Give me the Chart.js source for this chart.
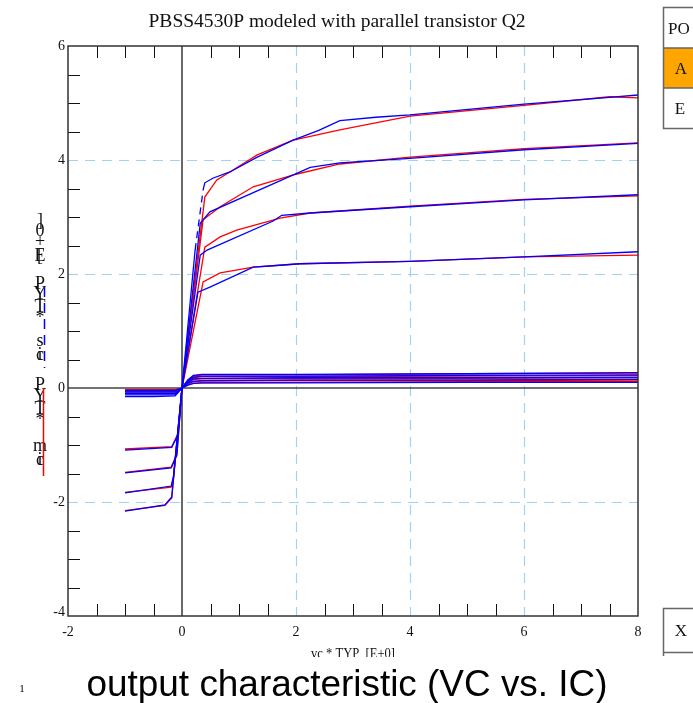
<!DOCTYPE html>
<html>
<head>
<meta charset="utf-8">
<script src="https://cdn.jsdelivr.net/npm/chart.js@4"></script>
<style>
  html, body { margin: 0; padding: 0; background: #fff; }
  #chart { display: block; }
</style>
</head>
<body>
<canvas id="chart" width="693" height="703"></canvas>
<script>
// axis ticks
const xTicks = [-2, 0, 2, 4, 6, 8];
const yTicks = [-4, -2, 0, 2, 4, 6];
const gridX = [2, 4, 6];
const gridY = [-2, 2, 4];

// big curves, VC > 0 (blue = model, red = measured)
const blue1Vc = [0, 0.23, 0.37, 0.40, 0.54, 0.84, 1.32, 1.95, 2.4, 2.77, 3.4, 4, 6, 7.5, 8];
const blue1Ic = [0, 2.42, 3.47, 3.60, 3.68, 3.79, 4.05, 4.35, 4.52, 4.69, 4.75, 4.79, 4.98, 5.10, 5.14];
const red1Vc = [0, 0.40, 0.61, 0.84, 1.32, 1.95, 2.77, 4, 6, 7.5, 8];
const red1Ic = [0, 3.35, 3.65, 3.79, 4.09, 4.35, 4.53, 4.77, 4.96, 5.11, 5.09];

const blue2Vc = [0, 0.32, 0.49, 2.25, 2.77, 4, 6, 8];
const blue2Ic = [0, 2.89, 3.09, 3.87, 3.95, 4.03, 4.18, 4.29];
const red2Vc = [0, 0.37, 0.67, 1.25, 2.0, 2.77, 4, 6, 8];
const red2Ic = [0, 2.95, 3.18, 3.53, 3.75, 3.93, 4.05, 4.20, 4.30];

const blue3Vc = [0, 0.32, 0.44, 1.6, 1.75, 2.25, 4, 6, 8];
const blue3Ic = [0, 2.33, 2.42, 2.93, 3.03, 3.07, 3.18, 3.30, 3.39];
const red3Vc = [0, 0.40, 0.67, 0.96, 1.72, 2.25, 4, 6, 8];
const red3Ic = [0, 2.47, 2.65, 2.77, 2.98, 3.07, 3.19, 3.31, 3.37];

const blue4Vc = [0, 0.28, 0.49, 1.25, 1.54, 2.07, 4, 6, 8];
const blue4Ic = [0, 1.68, 1.77, 2.12, 2.14, 2.18, 2.22, 2.30, 2.39];
const red4Vc = [0, 0.37, 0.67, 1.25, 2.07, 4, 6, 8];
const red4Ic = [0, 1.86, 2.02, 2.12, 2.18, 2.22, 2.30, 2.33];

// small curves, VC > 0
const smallVc = [0, 0.1, 0.2, 0.35, 2, 5, 8];
const smallBlue1 = [0, 0.14, 0.22, 0.24, 0.24, 0.25, 0.27];
const smallBlue2 = [0, 0.12, 0.19, 0.21, 0.21, 0.22, 0.23];
const smallBlue3 = [0, 0.10, 0.16, 0.17, 0.18, 0.18, 0.19];
const smallBlue4 = [0, 0.08, 0.12, 0.13, 0.14, 0.14, 0.15];
const smallBlue5 = [0, 0.05, 0.08, 0.09, 0.09, 0.10, 0.10];
const smallRed1 = [0, 0.13, 0.21, 0.23, 0.23, 0.25, 0.26];
const smallRed2 = [0, 0.11, 0.18, 0.20, 0.20, 0.21, 0.22];
const smallRed3 = [0, 0.09, 0.15, 0.16, 0.17, 0.17, 0.18];
const smallRed4 = [0, 0.07, 0.11, 0.12, 0.13, 0.13, 0.14];
const smallRed5 = [0, 0.05, 0.08, 0.09, 0.10, 0.11, 0.11];

// big curves, VC < 0
const negAVc = [-1, -0.18, -0.07, 0];
const negAIc = [-1.09, -1.04, -0.82, 0];
const negBVc = [-1, -0.19, -0.09, 0];
const negBIc = [-1.49, -1.40, -1.18, 0];
const negCVc = [-1, -0.19, -0.15, 0];
const negCIc = [-1.84, -1.72, -1.55, 0];
const negDVc = [-1, -0.30, -0.18, 0];
const negDIc = [-2.16, -2.05, -1.91, 0];
const negARed = [-1.07, -1.03, -0.80, 0];
const negBRed = [-1.48, -1.39, -1.16, 0];
const negCRed = [-1.83, -1.74, -1.58, 0];
const negDRed = [-2.15, -2.06, -1.93, 0];

// small curves, VC < 0
const negSmallVc = [-1, -0.5, -0.12, 0];
const negSmallBlue = [
  [-0.04, -0.04, -0.04, 0],
  [-0.07, -0.07, -0.07, 0],
  [-0.10, -0.10, -0.10, 0],
  [-0.12, -0.12, -0.12, 0],
  [-0.15, -0.15, -0.14, 0]
];
const negSmallRed = [
  [-0.03, -0.03, -0.03, 0],
  [-0.06, -0.06, -0.06, 0],
  [-0.09, -0.09, -0.09, 0]
];

const BLUE = '#0000ff';
const RED = '#ff0000';

function series(vc, ic, color) {
    return {
        data: vc.map((x, i) => ({ x: x, y: ic[i] })),
        borderColor: color,
        borderWidth: 1.3,
        showLine: true,
        pointRadius: 0,
        fill: false,
        tension: 0
    };
}

// top model curve has a dashed piece on its steep rise
const blue1 = series(blue1Vc, blue1Ic, BLUE);
blue1.segment = { borderDash: c => c.p0DataIndex === 1 ? [7, 5] : undefined };

// blue first so it sits on top of red
const datasets = [
    blue1,
    series(blue2Vc, blue2Ic, BLUE),
    series(blue3Vc, blue3Ic, BLUE),
    series(blue4Vc, blue4Ic, BLUE),
    series(smallVc, smallBlue1, BLUE),
    series(smallVc, smallBlue2, BLUE),
    series(smallVc, smallBlue3, BLUE),
    series(smallVc, smallBlue4, BLUE),
    series(smallVc, smallBlue5, BLUE),
    series(negAVc, negAIc, BLUE),
    series(negBVc, negBIc, BLUE),
    series(negCVc, negCIc, BLUE),
    series(negDVc, negDIc, BLUE),
    ...negSmallBlue.map(ic => series(negSmallVc, ic, BLUE)),
    series(red1Vc, red1Ic, RED),
    series(red2Vc, red2Ic, RED),
    series(red3Vc, red3Ic, RED),
    series(red4Vc, red4Ic, RED),
    series(smallVc, smallRed1, RED),
    series(smallVc, smallRed2, RED),
    series(smallVc, smallRed3, RED),
    series(smallVc, smallRed4, RED),
    series(smallVc, smallRed5, RED),
    series(negAVc, negARed, RED),
    series(negBVc, negBRed, RED),
    series(negCVc, negCRed, RED),
    series(negDVc, negDRed, RED),
    ...negSmallRed.map(ic => series(negSmallVc, ic, RED))
];

const SERIF = '"Liberation Serif", "Times New Roman", serif';

function fitText(ctx, text, cx, y, width) {
    const w = ctx.measureText(text).width;
    ctx.save();
    ctx.translate(cx, y);
    ctx.scale(width / w, 1);
    ctx.textAlign = 'center';
    ctx.fillText(text, 0, 0);
    ctx.restore();
}

const framePlugin = {
    id: 'frame',
    beforeDraw(chart) {
        const ctx = chart.ctx;
        ctx.save();
        ctx.fillStyle = '#fff';
        ctx.fillRect(0, 0, chart.width, chart.height);
        ctx.restore();
    },
    beforeDatasetsDraw(chart) {
        const { ctx, chartArea: a, scales: { x, y } } = chart;
        ctx.save();
        // dashed grid
        ctx.strokeStyle = '#9fd2f4';
        ctx.lineWidth = 1.2;
        ctx.setLineDash([10, 7]);
        gridX.forEach(v => {
            const px = Math.round(x.getPixelForValue(v)) + 0.5;
            ctx.beginPath();
            ctx.moveTo(px, a.top);
            ctx.lineTo(px, a.bottom);
            ctx.stroke();
        });
        gridY.forEach(v => {
            const py = Math.round(y.getPixelForValue(v)) + 0.5;
            ctx.beginPath();
            ctx.moveTo(a.left, py);
            ctx.lineTo(a.right, py);
            ctx.stroke();
        });
        ctx.setLineDash([]);

        // inward ticks every 0.5
        ctx.strokeStyle = '#111';
        ctx.lineWidth = 1;
        for (let v = -1.5; v < 8; v += 0.5) {
            if (gridX.includes(v) || v === 0) continue;
            const px = Math.round(x.getPixelForValue(v)) + 0.5;
            ctx.beginPath();
            ctx.moveTo(px, a.top);
            ctx.lineTo(px, a.top + 12);
            ctx.moveTo(px, a.bottom);
            ctx.lineTo(px, a.bottom - 12);
            ctx.stroke();
        }
        for (let v = -3.5; v < 6; v += 0.5) {
            if (gridY.includes(v) || v === 0) continue;
            const py = Math.round(y.getPixelForValue(v)) + 0.5;
            ctx.beginPath();
            ctx.moveTo(a.left, py);
            ctx.lineTo(a.left + 12, py);
            ctx.stroke();
        }

        // zero axes
        ctx.strokeStyle = '#444';
        ctx.lineWidth = 1.6;
        const x0 = x.getPixelForValue(0);
        const y0 = y.getPixelForValue(0);
        ctx.beginPath();
        ctx.moveTo(x0, a.top);
        ctx.lineTo(x0, a.bottom);
        ctx.moveTo(a.left, y0);
        ctx.lineTo(a.right, y0);
        ctx.stroke();
        ctx.restore();
    },
    afterDatasetsDraw(chart) {
        const { ctx, chartArea: a, scales: { x, y } } = chart;
        ctx.save();
        // plot border
        ctx.strokeStyle = '#333';
        ctx.lineWidth = 1.5;
        ctx.strokeRect(a.left, a.top, a.right - a.left, a.bottom - a.top);

        // tick labels
        ctx.fillStyle = '#111';
        ctx.font = '14px ' + SERIF;
        ctx.textBaseline = 'middle';
        ctx.textAlign = 'right';
        yTicks.forEach(v => {
            const py = y.getPixelForValue(v);
            ctx.fillText(String(v), a.left - 3, v === -4 ? py - 4 : py);
        });
        ctx.textAlign = 'center';
        xTicks.forEach(v => {
            ctx.fillText(String(v), x.getPixelForValue(v), a.bottom + 16);
        });

        // x axis title, cut at the bottom like the original
        ctx.save();
        ctx.beginPath();
        ctx.rect(0, 600, chart.width, 57);
        ctx.clip();
        ctx.font = '15px ' + SERIF;
        ctx.textBaseline = 'alphabetic';
        fitText(ctx, 'vc * TYP  [E+0]', 353, 658, 84);
        ctx.restore();

        // chart title
        ctx.font = '19px ' + SERIF;
        ctx.textBaseline = 'alphabetic';
        fitText(ctx, 'PBSS4530P modeled with parallel transistor Q2', 337, 27, 377);

        // y axis title: upright glyphs stacked downward
        const yLabel = [[']', 221], ['0', 231], ['+', 242], ['E', 256], ['[', 256],
            ['P', 284], ['Y', 294], ['T', 307], ['*', 318], ['s', 341], ['c', 355], ['i', 355],
            ['P', 385], ['Y', 396], ['T', 409], ['*', 420], ['m', 446], ['c', 460], ['i', 460]];
        ctx.font = '18px ' + SERIF;
        ctx.textBaseline = 'middle';
        ctx.textAlign = 'center';
        yLabel.forEach(([ch, py]) => ctx.fillText(ch, 40, py));

        // stray legend strokes next to the y title
        ctx.lineWidth = 1.5;
        ctx.strokeStyle = RED;
        ctx.beginPath();
        ctx.moveTo(43.5, 388);
        ctx.lineTo(43.5, 476);
        ctx.stroke();
        ctx.strokeStyle = BLUE;
        ctx.setLineDash([10, 6]);
        ctx.beginPath();
        ctx.moveTo(44.5, 287);
        ctx.lineTo(44.5, 368);
        ctx.stroke();
        ctx.setLineDash([]);

        // page caption
        ctx.fillStyle = '#000';
        ctx.font = '37px "Liberation Sans", Arial, sans-serif';
        ctx.textBaseline = 'alphabetic';
        fitText(ctx, 'output characteristic (VC vs. IC)', 347, 696, 521);
        ctx.font = '11px ' + SERIF;
        ctx.textAlign = 'center';
        ctx.fillText('1', 22, 692);

        // side boxes
        ctx.strokeStyle = '#666';
        ctx.lineWidth = 1.5;
        ctx.fillStyle = '#ffa500';
        ctx.fillRect(664, 48, 30, 40);
        ctx.strokeRect(663.5, 7.5, 40, 121);
        ctx.beginPath();
        ctx.moveTo(663, 48);
        ctx.lineTo(693, 48);
        ctx.moveTo(663, 88);
        ctx.lineTo(693, 88);
        ctx.stroke();
        ctx.beginPath();
        ctx.moveTo(663.5, 656);
        ctx.lineTo(663.5, 608.5);
        ctx.lineTo(693, 608.5);
        ctx.moveTo(663.5, 652.5);
        ctx.lineTo(693, 652.5);
        ctx.stroke();

        ctx.fillStyle = '#111';
        ctx.font = '17px ' + SERIF;
        ctx.textAlign = 'left';
        ctx.fillText('PO', 668, 34);
        ctx.textAlign = 'center';
        ctx.fillText('A', 681, 74);
        ctx.fillText('E', 680, 114);
        ctx.fillText('X', 681, 636);
        ctx.restore();
    }
};

new Chart(document.getElementById('chart'), {
    type: 'scatter',
    data: { datasets: datasets },
    options: {
        responsive: false,
        devicePixelRatio: 1,
        animation: false,
        layout: { padding: { left: 68, top: 46, right: 55, bottom: 87 } },
        scales: {
            x: {
                type: 'linear', min: -2, max: 8,
                ticks: { display: false },
                grid: { display: false },
                border: { display: false },
                afterFit: s => { s.height = 0; }
            },
            y: {
                type: 'linear', min: -4, max: 6,
                ticks: { display: false },
                grid: { display: false },
                border: { display: false },
                afterFit: s => { s.width = 0; }
            }
        },
        plugins: {
            legend: { display: false },
            tooltip: { enabled: false }
        }
    },
    plugins: [framePlugin]
});
</script>
</body>
</html>
